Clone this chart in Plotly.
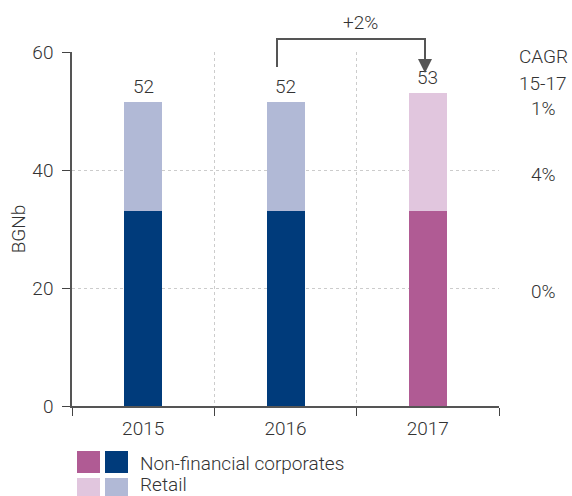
import plotly.graph_objects as go

years = ["2015", "2016", "2017"]
nfc = [33, 33, 33]
retail = [18.5, 18.5, 20]
total_labels = ["52", "52", "53"]
nfc_colors = ["#003b7b", "#003b7b", "#b05b94"]
retail_colors = ["#b1b9d6", "#b1b9d6", "#e1c6de"]
cagr_header = ["CAGR", "15-17"]
cagr_values = ["1%", "4%", "0%"]
growth_label = "+2%"
legend_labels = ["Non-financial corporates", "Retail"]

W, H = 572, 496
L, R, T, B = 72, 499, 52, 406      # plot area in pixels
FONT = "Roboto"
FS = 19
TXT = "#333333"
F = dict(size=FS, color=TXT, family=FONT, weight=300)

def px(x):
    return (x - L) / (R - L)

def py(y):
    return (B - y) / (B - T)

fig = go.Figure()
fig.add_trace(go.Bar(x=years, y=nfc, marker=dict(color=nfc_colors, line=dict(width=0)),
                     name=legend_labels[0], showlegend=False, hoverinfo="skip"))
fig.add_trace(go.Bar(x=years, y=retail, marker=dict(color=retail_colors, line=dict(width=0)),
                     name=legend_labels[1], showlegend=False, hoverinfo="skip"))

annotations = []
for i, yr in enumerate(years):
    annotations.append(dict(x=i, y=nfc[i] + retail[i], xref="x", yref="y", text=total_labels[i],
                            showarrow=False, xanchor="center", yanchor="bottom", yshift=2, font=F))

def note(text, x, y, xanchor="center"):
    return dict(x=px(x), y=py(y), xref="paper", yref="paper", text=text, showarrow=False,
                xanchor=xanchor, yanchor="middle", font=F)

# CAGR column
for t, yy in zip(cagr_header, [56, 83]):
    annotations.append(note(t, 543, yy))
for t, yy in zip(cagr_values, [108, 174, 291]):
    annotations.append(note(t, 543, yy))

# growth bracket
annotations.append(note(growth_label, 360, 23))
annotations.append(dict(x=px(425), y=py(73), xref="paper", yref="paper", text="", showarrow=True,
                        axref="pixel", ayref="pixel", ax=0, ay=-34, arrowhead=2, arrowsize=1.4,
                        arrowwidth=2, arrowcolor="#555555"))

shapes = [dict(type="path", xref="paper", yref="paper",
               path=f"M {px(277)} {py(67)} L {px(277)} {py(39)} L {px(425)} {py(39)} L {px(425)} {py(55)}",
               line=dict(color="#555555", width=2))]

# custom legend
rows = [(451, 473, nfc_colors[2], nfc_colors[0], legend_labels[0], 463),
        (478, 500, retail_colors[2], retail_colors[0], legend_labels[1], 484)]
for y0, y1, c1, c2, lab, ty in rows:
    shapes.append(dict(type="rect", xref="paper", yref="paper", x0=px(77), x1=px(100), y0=py(y0), y1=py(y1),
                       fillcolor=c1, line=dict(width=0)))
    shapes.append(dict(type="rect", xref="paper", yref="paper", x0=px(105), x1=px(128), y0=py(y0), y1=py(y1),
                       fillcolor=c2, line=dict(width=0)))
    annotations.append(note(lab, 138, ty, xanchor="left"))

fig.update_layout(
    width=W, height=H,
    margin=dict(l=L, r=W - R, t=T, b=H - B, pad=0, autoexpand=False),
    barmode="stack", bargap=0.733,
    plot_bgcolor="white", paper_bgcolor="white",
    font=F,
    annotations=annotations, shapes=shapes,
    showlegend=False, hovermode=False,
)
fig.update_xaxes(type="category", range=[-0.5, 2.5], tickson="boundaries", ticks="outside", ticklen=8,
                 tickcolor="#444444", showline=True, linecolor="#555555", linewidth=1.5,
                 showgrid=True, gridcolor="#cccccc", griddash="dot", gridwidth=1,
                 tickfont=F, automargin=False, ticklabelstandoff=4)
fig.update_yaxes(range=[0, 60], dtick=20, ticks="outside", ticklen=8, tickcolor="#444444",
                 showline=True, linecolor="#555555", linewidth=1.5,
                 showgrid=True, gridcolor="#cccccc", griddash="dot", gridwidth=1, zeroline=False,
                 tickfont=F, automargin=False, ticklabelstandoff=5,
                 title=dict(text="BGNb", font=F, standoff=2))

fig.write_html("out.html", config={"displayModeBar": False},
               post_script="document.body.style.margin='0';document.body.style.overflow='hidden';")
